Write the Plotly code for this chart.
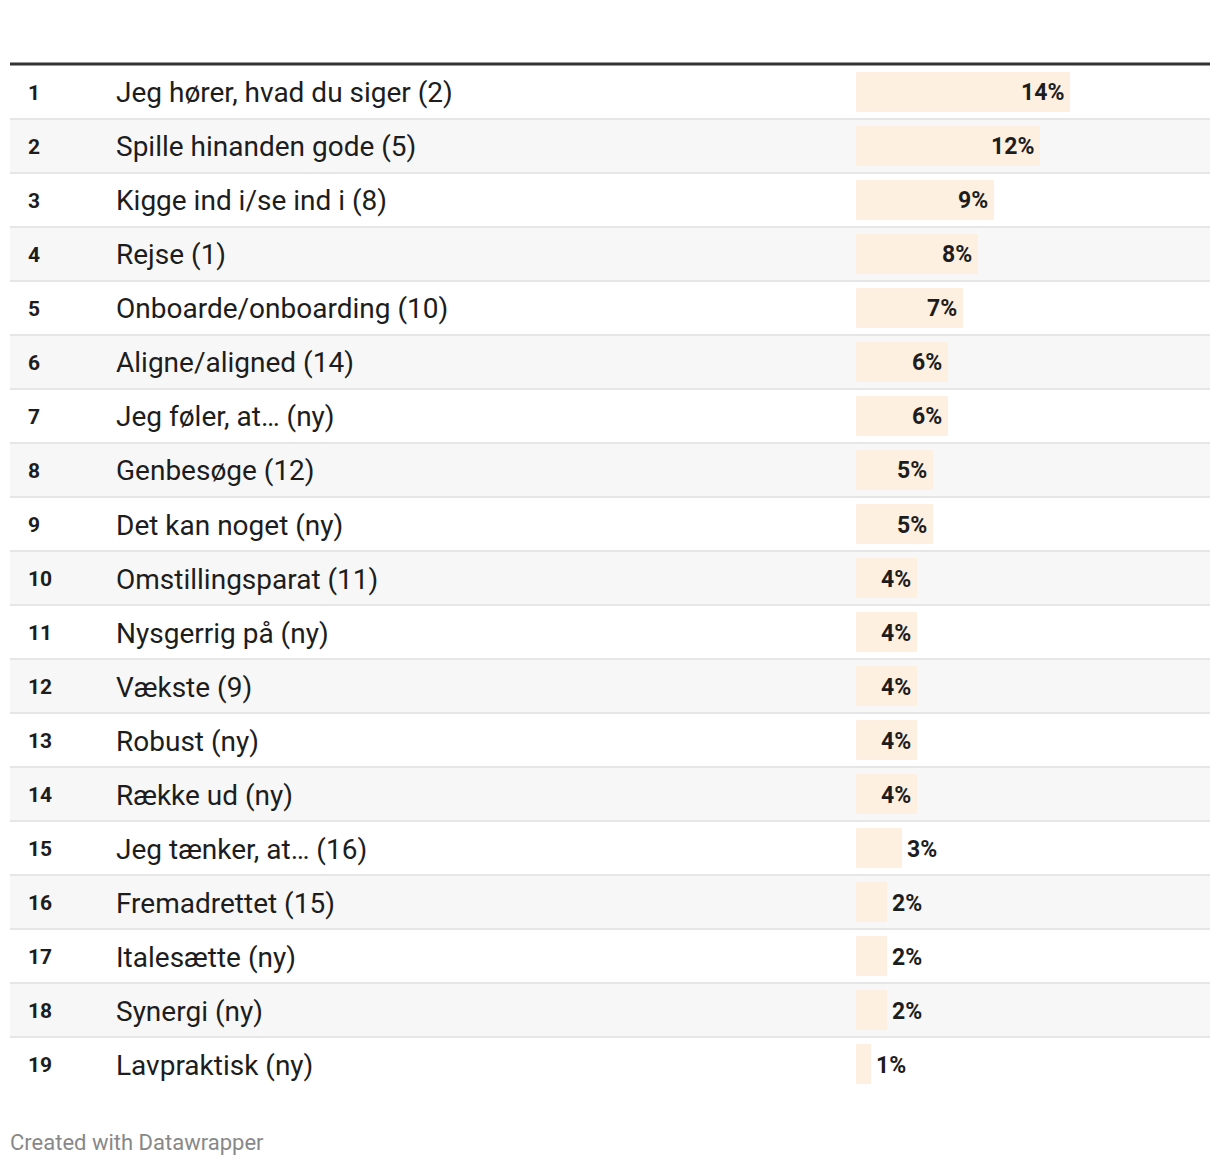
import plotly.graph_objects as go

ranks = list(range(1, 20))
names = [
    "Jeg hører, hvad du siger (2)",
    "Spille hinanden gode (5)",
    "Kigge ind i/se ind i (8)",
    "Rejse (1)",
    "Onboarde/onboarding (10)",
    "Aligne/aligned (14)",
    "Jeg føler, at… (ny)",
    "Genbesøge (12)",
    "Det kan noget (ny)",
    "Omstillingsparat (11)",
    "Nysgerrig på (ny)",
    "Vækste (9)",
    "Robust (ny)",
    "Række ud (ny)",
    "Jeg tænker, at… (16)",
    "Fremadrettet (15)",
    "Italesætte (ny)",
    "Synergi (ny)",
    "Lavpraktisk (ny)",
]
shares = [14, 12, 9, 8, 7, 6, 6, 5, 5, 4, 4, 4, 4, 4, 3, 2, 2, 2, 1]

# the page has an 8px body margin; figure coordinates are page coordinates minus 8
OFF = 8
W, H = 1220 - OFF, 1166 - OFF
TOP, ROW = 65, 54
N = len(ranks)
BOTTOM = TOP + ROW * N
FONT = "Roboto, Arial, sans-serif"
TXT = "#1d1d1d"


def fx(xp):
    return (xp - OFF) / W


def fy(yp):
    return (H - (yp - OFF)) / H


bar_x0, bar_x1 = 856, 1210
px_per = 15.3

fig = go.Figure()
fig.add_trace(go.Bar(
    x=shares, y=ranks, orientation="h",
    marker=dict(color="#fdf0e1", line=dict(width=0)),
    width=40 / ROW, hoverinfo="skip",
))

shapes = []
for r in ranks:
    if r % 2 == 0:
        shapes.append(dict(type="rect", xref="paper", yref="y", x0=fx(10), x1=fx(1210),
                           y0=r - 0.5, y1=r + 0.5, fillcolor="#f7f7f7", line=dict(width=0), layer="below"))
    if r < N:
        shapes.append(dict(type="line", xref="paper", yref="y", x0=fx(10), x1=fx(1210),
                           y0=r + 0.5, y1=r + 0.5, line=dict(color="#e6e6e6", width=2), layer="above"))
shapes.append(dict(type="line", xref="paper", yref="paper", x0=fx(10), x1=fx(1210),
                   y0=fy(64), y1=fy(64), line=dict(color="#333333", width=3)))

ann = []
for r, n, s in zip(ranks, names, shares):
    ann.append(dict(x=fx(26), xref="paper", y=r, yref="y", text=f"<b>{r}</b>", showarrow=False,
                    xanchor="left", yshift=-1, font=dict(family=FONT, size=21, color=TXT)))
    ann.append(dict(x=fx(114), xref="paper", y=r, yref="y", text=n, showarrow=False,
                    xanchor="left", yshift=-1, font=dict(family=FONT, size=28, color=TXT)))
    if s >= 4:
        ann.append(dict(x=s, xref="x", y=r, yref="y", text=f"<b>{s}%</b>", showarrow=False,
                        xanchor="right", xshift=-4, yshift=-1, font=dict(family=FONT, size=23, color=TXT)))
    else:
        ann.append(dict(x=s, xref="x", y=r, yref="y", text=f"<b>{s}%</b>", showarrow=False,
                        xanchor="left", xshift=3, yshift=-1, font=dict(family=FONT, size=23, color=TXT)))
ann.append(dict(x=fx(8), xref="paper", y=fy(1142), yref="paper", text="Created with Datawrapper",
                showarrow=False, xanchor="left", yanchor="middle",
                font=dict(family=FONT, size=22, color="#888888")))

fig.update_layout(
    width=W, height=H, margin=dict(l=0, r=0, t=0, b=0),
    paper_bgcolor="white", plot_bgcolor="rgba(0,0,0,0)",
    showlegend=False, shapes=shapes, annotations=ann, bargap=0,
    xaxis=dict(domain=[fx(bar_x0), fx(bar_x1)], range=[0, (bar_x1 - bar_x0) / px_per],
               visible=False, fixedrange=True),
    yaxis=dict(domain=[fy(BOTTOM), fy(TOP)], range=[N + 0.5, 0.5], visible=False, fixedrange=True),
)
fig.write_html("out.html", config={"displayModeBar": False})
